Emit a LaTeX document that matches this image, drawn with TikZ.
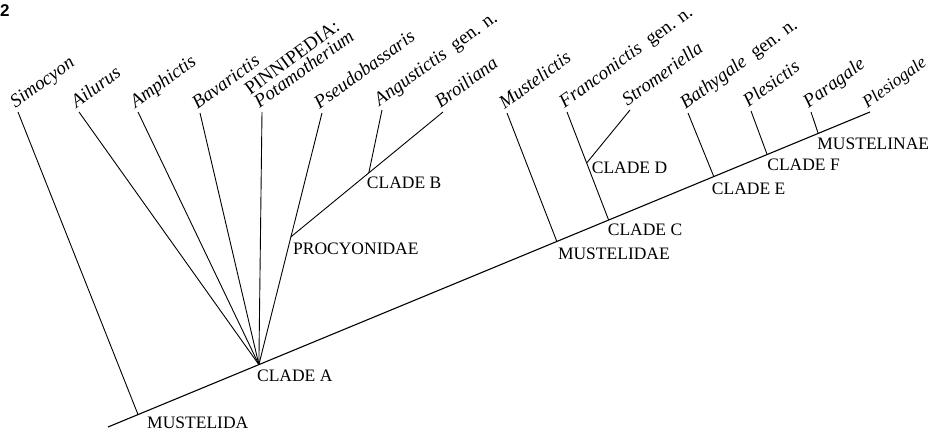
\documentclass[tikz,border=0pt]{standalone}
\usepackage{fontspec}
\setmainfont{Liberation Serif}
\setsansfont{Liberation Sans}
\usetikzlibrary{positioning,calc}

\begin{document}
\begin{tikzpicture}[
        x=1pt,
        y=-1pt,
        stem/.style={
            line width=1.1pt
        },
        branch/.style={
            line width=0.9pt
        },
        taxon/.style={
            anchor=south west,
            inner sep=0pt,
            rotate=36,
            text depth=4pt,
            font=\fontsize{19}{20}\selectfont\itshape
        },
        clade/.style={
            inner sep=0pt,
            font=\fontsize{17.5}{19}\selectfont
        }
    ]
    \useasboundingbox (0,0) rectangle (931,434);

    \node[anchor=north west, inner sep=0pt,
        font=\fontsize{17}{18}\selectfont\sffamily\bfseries] (fignum) at (0,4) {2};

    % tips
    \node[taxon] (simocyon) at (18,112) {Simocyon};
    \node[taxon] (ailurus) at (79,112) {Ailurus};
    \node[taxon] (amphictis) at (138,112) {Amphictis};
    \node[taxon] (bavarictis) at (200,113) {Bavarictis};
    \node[taxon, align=left] (potamotherium) at (262,112)
        {\textup{PINNIPEDIA:}\\[-4pt]Potamotherium};
    \node[taxon] (pseudobassaris) at (322,113) {Pseudobassaris};
    \node[taxon] (angustictis) at (382,110)
        {Angustictis\enspace\textup{gen. n.}};
    \node[taxon] (broiliana) at (443,112) {Broiliana};
    \node[taxon] (mustelictis) at (507,113) {Mustelictis};
    \node[taxon] (franconictis) at (567,112)
        {Franconictis\enspace\textup{gen. n.}};
    \node[taxon] (stromeriella) at (630,110) {Stromeriella};
    \node[taxon] (bathygale) at (688,113)
        {Bathygale\enspace\textup{gen. n.}};
    \node[taxon] (plesictis) at (751,111) {Plesictis};
    \node[taxon] (paragale) at (811,112) {Paragale};
    \node[taxon, font=\fontsize{17.5}{19}\selectfont\itshape] (plesiogale) at (870,112) {Plesiogale};

    % stem and its nodes
    \coordinate (root) at (108,427);
    \coordinate (mustelida) at ($(root)!0.0394!(plesiogale.south west)$);
    \coordinate (cladeA) at ($(root)!0.198!(plesiogale.south west)$);
    \coordinate (mustelidae) at ($(root)!0.589!(plesiogale.south west)$);
    \coordinate (cladeC) at ($(root)!0.657!(plesiogale.south west)$);
    \coordinate (cladeE) at ($(root)!0.795!(plesiogale.south west)$);
    \coordinate (cladeF) at ($(root)!0.865!(plesiogale.south west)$);
    \coordinate (mustelinae) at ($(root)!0.932!(plesiogale.south west)$);
    \coordinate (procyonidae) at ($(cladeA)!0.508!(pseudobassaris.south west)$);
    \coordinate (cladeB) at ($(procyonidae)!0.512!(broiliana.south west)$);
    \coordinate (cladeD) at ($(cladeC)!0.528!(franconictis.south west)$);

    \draw[stem] (root) -- (plesiogale.south west);

    \draw[branch] (mustelida) -- (simocyon.south west);
    \draw[branch] (cladeA) -- (ailurus.south west);
    \draw[branch] (cladeA) -- (amphictis.south west);
    \draw[branch] (cladeA) -- (bavarictis.south west);
    \draw[branch] (cladeA) -- (potamotherium.south west);
    \draw[branch] (cladeA) -- (pseudobassaris.south west);
    \draw[branch] (procyonidae) -- (broiliana.south west);
    \draw[branch] (cladeB) -- (angustictis.south west);
    \draw[branch] (mustelidae) -- (mustelictis.south west);
    \draw[branch] (cladeC) -- (franconictis.south west);
    \draw[branch] (cladeD) -- (stromeriella.south west);
    \draw[branch] (cladeE) -- (bathygale.south west);
    \draw[branch] (cladeF) -- (plesictis.south west);
    \draw[branch] (mustelinae) -- (paragale.south west);

    % clade names
    \node[clade, below right=2.5pt and 9pt of mustelida] (lbMustelida) {MUSTELIDA};
    \node[clade, below right=5pt and -2pt of cladeA] (lbCladeA) {CLADE A};
    \node[clade, below right=6pt and 2pt of procyonidae] (lbProcyonidae) {PROCYONIDAE};
    \node[clade, below right=4pt and -2pt of cladeB] (lbCladeB) {CLADE B};
    \node[clade, below right=6.5pt and 1pt of mustelidae] (lbMustelidae) {MUSTELIDAE};
    \node[clade, below right=4pt and -1pt of cladeC] (lbCladeC) {CLADE C};
    \node[clade, below right=-1pt and 5pt of cladeD] (lbCladeD) {CLADE D};
    \node[clade, below right=6.5pt and -2pt of cladeE] (lbCladeE) {CLADE E};
    \node[clade, below right=4.5pt and 0pt of cladeF] (lbCladeF) {CLADE F};
    \node[clade, below right=4.5pt and -1pt of mustelinae] (lbMustelinae) {MUSTELINAE};

\end{tikzpicture}
\end{document}
